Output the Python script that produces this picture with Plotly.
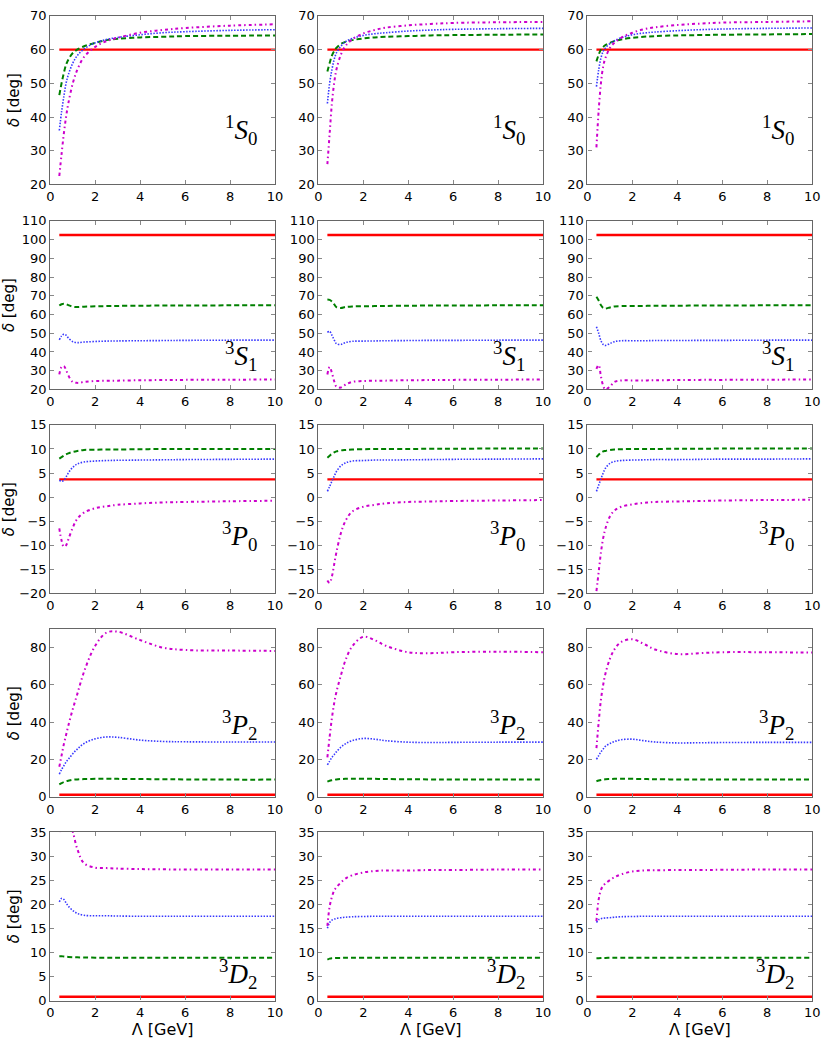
import plotly.graph_objects as go
from plotly.subplots import make_subplots

# cutoff grid, GeV
LAMBDA = [0.4, 0.5, 0.6, 0.7, 0.8, 1.0, 1.2, 1.5, 2.0, 2.5, 3.0, 4.0, 5.0, 6.0, 8.0, 10.0]

WAVES = ["1S0", "3S1", "3P0", "3P2", "3D2"]
WAVE_LABELS = ["<sup>1</sup><i>S</i><sub>0</sub>", "<sup>3</sup><i>S</i><sub>1</sub>",
               "<sup>3</sup><i>P</i><sub>0</sub>", "<sup>3</sup><i>P</i><sub>2</sub>",
               "<sup>3</sup><i>D</i><sub>2</sub>"]

# reference phase (flat red line)
REF_PHASE = [60.0, 102.5, 3.7, 1.0, 0.8]

# each entry: one list per column (left, middle, right)
s10_dashed = [
    [46.5, 50.0, 53.0, 55.5, 57.0, 59.0, 60.0, 61.0, 62.0, 62.8, 63.2, 63.6, 63.8, 64.0, 64.1, 64.2],
    [53.5, 56.0, 58.2, 59.5, 60.5, 61.7, 62.3, 62.8, 63.3, 63.6, 63.8, 64.0, 64.2, 64.3, 64.4, 64.5],
    [56.5, 58.5, 60.0, 60.8, 61.3, 62.0, 62.5, 63.0, 63.5, 63.8, 64.0, 64.2, 64.3, 64.4, 64.5, 64.6],
]
s10_dotted = [
    [36.0, 41.5, 46.0, 50.0, 52.5, 56.0, 58.2, 60.2, 62.0, 63.0, 63.6, 64.4, 65.0, 65.3, 65.7, 65.9],
    [44.0, 50.0, 54.0, 57.0, 59.0, 61.0, 62.3, 63.3, 64.2, 64.7, 65.0, 65.5, 65.8, 66.0, 66.2, 66.3],
    [49.0, 54.0, 57.5, 59.5, 60.5, 61.8, 62.6, 63.5, 64.4, 64.9, 65.2, 65.6, 65.9, 66.1, 66.3, 66.4],
]
s10_dashdot = [
    [22.5, 29.0, 35.0, 40.0, 44.0, 50.0, 54.0, 57.8, 60.8, 62.5, 63.5, 65.0, 65.8, 66.4, 67.1, 67.5],
    [26.0, 35.0, 44.0, 50.0, 54.0, 58.5, 61.0, 63.0, 64.8, 65.8, 66.5, 67.2, 67.6, 67.9, 68.1, 68.2],
    [31.0, 42.0, 50.0, 55.0, 57.5, 60.5, 62.0, 63.5, 65.0, 66.0, 66.6, 67.3, 67.7, 68.0, 68.2, 68.4],
]

s31_dashed = [
    [64.8, 65.5, 65.8, 65.5, 65.0, 64.2, 64.0, 64.2, 64.4, 64.5, 64.6, 64.7, 64.8, 64.8, 64.9, 64.9],
    [68.0, 67.8, 67.0, 65.5, 64.0, 63.5, 64.0, 64.3, 64.4, 64.5, 64.6, 64.7, 64.8, 64.8, 64.9, 64.9],
    [69.5, 67.5, 65.0, 63.5, 63.2, 63.8, 64.3, 64.5, 64.6, 64.6, 64.7, 64.7, 64.8, 64.8, 64.9, 64.9],
]
s31_dotted = [
    [46.5, 48.5, 49.5, 49.0, 47.5, 45.5, 45.0, 45.3, 45.6, 45.8, 45.9, 46.0, 46.1, 46.2, 46.3, 46.3],
    [50.5, 51.0, 49.0, 46.5, 44.5, 44.0, 45.0, 45.7, 45.8, 45.9, 46.0, 46.1, 46.2, 46.2, 46.3, 46.3],
    [53.5, 50.0, 46.0, 44.0, 43.5, 44.5, 45.5, 46.0, 46.0, 46.0, 46.1, 46.1, 46.2, 46.2, 46.3, 46.3],
]
s31_dashdot = [
    [28.0, 32.0, 32.5, 30.5, 27.5, 24.0, 23.5, 24.0, 24.5, 24.6, 24.7, 24.9, 25.0, 25.1, 25.2, 25.3],
    [28.0, 32.0, 29.0, 24.5, 21.5, 21.0, 22.5, 24.0, 24.5, 24.6, 24.7, 24.9, 25.0, 25.1, 25.2, 25.3],
    [31.0, 33.0, 27.0, 22.0, 20.0, 21.5, 24.0, 24.8, 24.8, 24.8, 24.9, 25.0, 25.1, 25.1, 25.2, 25.3],
]

p30_dashed = [
    [8.0, 8.3, 8.6, 8.9, 9.1, 9.4, 9.6, 9.8, 9.85, 9.9, 9.9, 9.95, 10.0, 10.0, 10.0, 10.0],
    [8.2, 8.6, 9.0, 9.3, 9.5, 9.7, 9.8, 9.9, 9.95, 10.0, 10.0, 10.0, 10.05, 10.05, 10.1, 10.1],
    [8.3, 8.8, 9.2, 9.5, 9.6, 9.8, 9.9, 9.95, 10.0, 10.0, 10.0, 10.05, 10.05, 10.1, 10.1, 10.1],
]
p30_dotted = [
    [3.5, 3.3, 3.5, 4.2, 5.0, 6.2, 6.9, 7.3, 7.5, 7.6, 7.65, 7.7, 7.75, 7.8, 7.85, 7.9],
    [1.2, 2.2, 3.3, 4.3, 5.3, 6.5, 7.1, 7.5, 7.6, 7.7, 7.7, 7.75, 7.8, 7.85, 7.9, 7.95],
    [1.2, 2.5, 3.8, 5.0, 6.0, 7.0, 7.4, 7.6, 7.7, 7.75, 7.8, 7.8, 7.85, 7.9, 7.9, 7.95],
]
p30_dashdot = [
    [-6.5, -9.0, -10.3, -10.0, -8.8, -6.3, -4.5, -3.2, -2.3, -1.9, -1.6, -1.3, -1.1, -1.0, -0.85, -0.75],
    [-17.3, -17.8, -16.5, -14.0, -11.5, -7.5, -5.0, -3.0, -2.0, -1.6, -1.3, -1.0, -0.9, -0.8, -0.7, -0.6],
    [-19.5, -15.5, -11.5, -8.5, -6.5, -4.0, -2.8, -2.0, -1.5, -1.2, -1.0, -0.9, -0.8, -0.7, -0.6, -0.55],
]

p32_dashed = [
    [6.5, 7.2, 7.8, 8.2, 8.5, 9.0, 9.2, 9.4, 9.5, 9.6, 9.5, 9.4, 9.3, 9.2, 9.1, 9.1],
    [8.0, 8.5, 8.8, 9.0, 9.2, 9.4, 9.5, 9.6, 9.6, 9.5, 9.4, 9.3, 9.2, 9.2, 9.2, 9.2],
    [8.2, 8.6, 8.9, 9.1, 9.3, 9.4, 9.5, 9.5, 9.5, 9.4, 9.3, 9.2, 9.2, 9.2, 9.2, 9.2],
]
p32_dotted = [
    [12.0, 14.5, 16.5, 18.5, 20.0, 23.0, 25.5, 28.5, 31.0, 32.0, 31.8, 30.3, 29.6, 29.4, 29.3, 29.3],
    [17.0, 19.0, 21.0, 22.5, 24.0, 26.5, 28.3, 30.0, 31.2, 30.8, 30.0, 29.2, 29.0, 29.1, 29.2, 29.2],
    [20.0, 22.0, 24.0, 25.5, 27.0, 28.5, 29.5, 30.5, 30.8, 30.0, 29.3, 28.8, 28.9, 29.0, 29.1, 29.1],
]
p32_dashdot = [
    [16.0, 22.0, 28.0, 33.0, 38.0, 47.0, 55.0, 67.0, 81.0, 88.0, 88.5, 84.0, 80.0, 78.7, 78.4, 78.2],
    [21.0, 32.0, 42.0, 50.0, 56.0, 65.0, 73.0, 80.5, 85.8, 84.0, 81.0, 77.5, 77.0, 77.5, 77.8, 77.5],
    [26.0, 40.0, 52.0, 60.0, 66.0, 74.0, 79.0, 83.0, 84.5, 82.0, 79.0, 76.5, 77.0, 77.5, 77.5, 77.3],
]

d32_dashed = [
    [9.2, 9.2, 9.15, 9.1, 9.05, 9.0, 8.97, 8.95, 8.9, 8.9, 8.9, 8.9, 8.9, 8.9, 8.9, 8.9],
    [8.5, 8.7, 8.8, 8.82, 8.85, 8.85, 8.87, 8.88, 8.9, 8.9, 8.9, 8.9, 8.9, 8.9, 8.9, 8.9],
    [8.8, 8.8, 8.82, 8.85, 8.85, 8.87, 8.88, 8.9, 8.9, 8.9, 8.9, 8.9, 8.9, 8.9, 8.9, 8.9],
]
d32_dotted = [
    [20.5, 21.2, 21.0, 20.3, 19.6, 18.7, 18.1, 17.7, 17.6, 17.6, 17.55, 17.5, 17.5, 17.5, 17.5, 17.5],
    [15.0, 16.2, 16.7, 16.9, 17.05, 17.2, 17.3, 17.4, 17.45, 17.5, 17.5, 17.5, 17.5, 17.5, 17.5, 17.5],
    [16.2, 16.8, 17.0, 17.1, 17.15, 17.2, 17.3, 17.4, 17.45, 17.5, 17.5, 17.5, 17.5, 17.5, 17.5, 17.5],
]
d32_dashdot = [
    [35.0, 37.0, 38.0, 38.0, 37.5, 35.0, 31.5, 28.5, 27.6, 27.5, 27.4, 27.3, 27.25, 27.2, 27.2, 27.2],
    [15.5, 19.5, 21.5, 22.8, 23.5, 24.5, 25.3, 26.0, 26.6, 26.9, 27.0, 27.0, 27.1, 27.1, 27.2, 27.2],
    [16.5, 21.0, 23.0, 23.8, 24.3, 25.0, 25.6, 26.2, 26.8, 27.0, 27.05, 27.1, 27.1, 27.15, 27.2, 27.2],
]

DASHED = [s10_dashed, s31_dashed, p30_dashed, p32_dashed, d32_dashed]
DOTTED = [s10_dotted, s31_dotted, p30_dotted, p32_dotted, d32_dotted]
DASHDOT = [s10_dashdot, s31_dashdot, p30_dashdot, p32_dashdot, d32_dashdot]

Y_RANGES = [(20, 70), (20, 110), (-20, 15), (-0.5, 90), (0, 35)]
Y_DTICK = [10, 10, 5, 20, 5]
LABEL_Y = [0.32, 0.20, 0.34, 0.43, 0.16]

W, H = 831, 1045
COL_LEFT = [47, 319, 592]
COL_W = 228
ROW_TOP = [9, 217, 424, 631, 837]
ROW_H = 171

fig = make_subplots(rows=5, cols=3)

for r in range(5):
    for c in range(3):
        fig.add_trace(go.Scatter(x=[LAMBDA[0], LAMBDA[-1]], y=[REF_PHASE[r]] * 2, mode="lines",
                                 line=dict(color="#ff0000", width=2.4)), row=r + 1, col=c + 1)
        fig.add_trace(go.Scatter(x=LAMBDA, y=DASHED[r][c], mode="lines", line_shape="spline",
                                 line=dict(color="#008000", width=2, dash="5px,3px")), row=r + 1, col=c + 1)
        fig.add_trace(go.Scatter(x=LAMBDA, y=DOTTED[r][c], mode="lines", line_shape="spline",
                                 line=dict(color="#3838ff", width=1.6, dash="1.5px,1.5px")), row=r + 1, col=c + 1)
        fig.add_trace(go.Scatter(x=LAMBDA, y=DASHDOT[r][c], mode="lines", line_shape="spline",
                                 line=dict(color="#cc00cc", width=2, dash="3px,3px,1.5px,3px")),
                      row=r + 1, col=c + 1)

        n = r * 3 + c + 1
        sfx = "" if n == 1 else str(n)
        x0 = COL_LEFT[c] / W
        x1 = (COL_LEFT[c] + COL_W) / W
        y1 = 1 - ROW_TOP[r] / H
        y0 = 1 - (ROW_TOP[r] + ROW_H) / H
        axis_style = dict(showline=True, linecolor="#666666", linewidth=1.2, mirror="ticks",
                          ticks="inside", ticklen=4, tickcolor="#888888", showgrid=False,
                          zeroline=False, tickfont=dict(family="DejaVu Sans", size=13, color="black"))
        fig.update_layout(**{
            "xaxis" + sfx: dict(domain=[x0, x1], range=[0, 10], dtick=2, **axis_style),
            "yaxis" + sfx: dict(domain=[y0, y1], range=list(Y_RANGES[r]), dtick=Y_DTICK[r], **axis_style),
        })
        if c == 0:
            fig.update_layout(**{"yaxis" + sfx: dict(
                title=dict(text="<i>δ</i> [deg]", standoff=6,
                           font=dict(family="DejaVu Sans", size=15, color="black")))})
        if r == 4:
            fig.update_layout(**{"xaxis" + sfx: dict(
                title=dict(text="Λ [GeV]", standoff=2,
                           font=dict(family="DejaVu Sans", size=16, color="black")))})

        fig.add_annotation(text=WAVE_LABELS[r], xref=f"x{sfx} domain", yref=f"y{sfx} domain",
                           x=0.93, y=LABEL_Y[r], xanchor="right", yanchor="middle", showarrow=False,
                           font=dict(family="Liberation Serif", size=27, color="black"))

fig.update_layout(width=W, height=H, margin=dict(l=0, r=0, t=0, b=0),
                  showlegend=False, plot_bgcolor="white", paper_bgcolor="white")

fig.write_html("out.html", config={"displayModeBar": False},
               post_script="document.body.style.margin='0';")
